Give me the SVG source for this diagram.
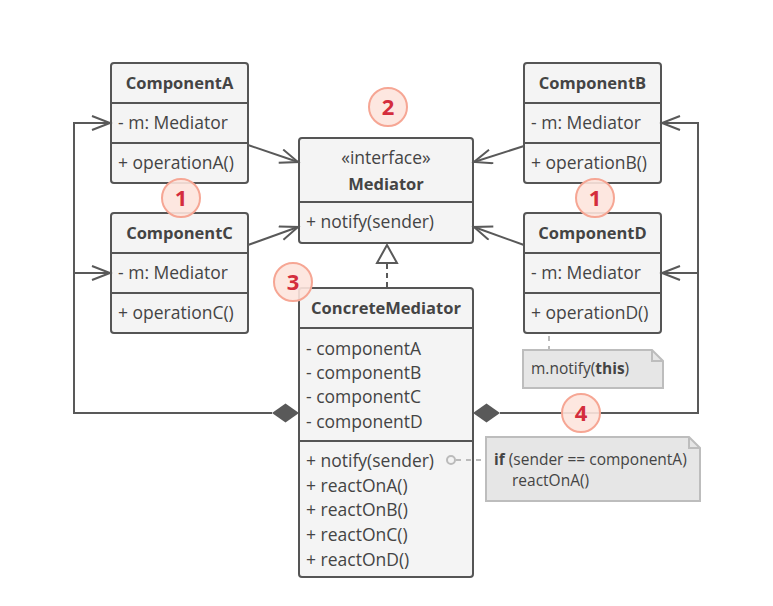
<svg xmlns="http://www.w3.org/2000/svg" width="773" height="606" viewBox="0 0 773 606">
<style>
.box{fill:#f4f4f4;stroke:#555;stroke-width:2}
.div{stroke:#555;stroke-width:2}
.t{font-family:"Open Sans","DejaVu Sans",sans-serif;font-size:17.5px;fill:#444}
.b{font-weight:bold;font-size:16.5px}
.c{text-anchor:middle}
.ln{fill:none;stroke:#595959;stroke-width:2}
.note{fill:#e6e6e6;stroke:#bdbdbd;stroke-width:2}
.nt{font-family:"Open Sans","DejaVu Sans",sans-serif;font-size:15.5px;fill:#444}
.badge circle{fill:#fde4dd;fill-opacity:0.9;stroke:#f6a694;stroke-width:2}
.badge text{font-family:"Open Sans","DejaVu Sans",sans-serif;font-size:22px;font-weight:bold;fill:#d42d3d;text-anchor:middle}
</style>
<defs>
<marker id="open" markerUnits="userSpaceOnUse" markerWidth="22" markerHeight="18" refX="19" refY="8" orient="auto">
<path d="M1,1 L19,8 L1,15" fill="none" stroke="#595959" stroke-width="2"/>
</marker>
</defs>
<rect width="773" height="606" fill="#fff"/>

<g id="componentA">
<rect class="box" x="111" y="63" width="137" height="120" rx="3"/>
<line class="div" x1="111" y1="103" x2="248" y2="103"/>
<line class="div" x1="111" y1="143" x2="248" y2="143"/>
<text class="t b c" x="179.5" y="89">ComponentA</text>
<text class="t" x="118" y="129">- m: Mediator</text>
<text class="t" x="118" y="169">+ operationA()</text>
</g>
<g id="componentC">
<rect class="box" x="111" y="213" width="137" height="120" rx="3"/>
<line class="div" x1="111" y1="253" x2="248" y2="253"/>
<line class="div" x1="111" y1="293" x2="248" y2="293"/>
<text class="t b c" x="179.5" y="239">ComponentC</text>
<text class="t" x="118" y="279">- m: Mediator</text>
<text class="t" x="118" y="319">+ operationC()</text>
</g>
<g id="componentB">
<rect class="box" x="524" y="63" width="137" height="120" rx="3"/>
<line class="div" x1="524" y1="103" x2="661" y2="103"/>
<line class="div" x1="524" y1="143" x2="661" y2="143"/>
<text class="t b c" x="592.5" y="89">ComponentB</text>
<text class="t" x="531" y="129">- m: Mediator</text>
<text class="t" x="531" y="169">+ operationB()</text>
</g>
<g id="componentD">
<rect class="box" x="524" y="213" width="137" height="120" rx="3"/>
<line class="div" x1="524" y1="253" x2="661" y2="253"/>
<line class="div" x1="524" y1="293" x2="661" y2="293"/>
<text class="t b c" x="592.5" y="239">ComponentD</text>
<text class="t" x="531" y="279">- m: Mediator</text>
<text class="t" x="531" y="319">+ operationD()</text>
</g>
<g id="mediator">
<rect class="box" x="299" y="138" width="174" height="105" rx="3"/>
<line class="div" x1="299" y1="202" x2="473" y2="202"/>
<text class="t c" x="386" y="164" font-size="17">«interface»</text>
<text class="t b c" x="386" y="190">Mediator</text>
<text class="t" x="306" y="228">+ notify(sender)</text>
</g>
<g id="concreteMediator">
<rect class="box" x="299" y="288" width="174" height="289" rx="3"/>
<line class="div" x1="299" y1="328" x2="473" y2="328"/>
<line class="div" x1="299" y1="441" x2="473" y2="441"/>
<text class="t b c" x="386" y="314">ConcreteMediator</text>
<text class="t" x="306" y="355">- componentA</text>
<text class="t" x="306" y="379">- componentB</text>
<text class="t" x="306" y="403">- componentC</text>
<text class="t" x="306" y="428">- componentD</text>
<text class="t" x="306" y="467">+ notify(sender)</text>
<text class="t" x="306" y="492">+ reactOnA()</text>
<text class="t" x="306" y="516">+ reactOnB()</text>
<text class="t" x="306" y="541">+ reactOnC()</text>
<text class="t" x="306" y="566">+ reactOnD()</text>
</g>
<g id="note1">
<path class="note" d="M523,350 H652 L663,361 V388 H523 Z"/>
<path d="M652,350 V361 H663" fill="none" stroke="#bdbdbd" stroke-width="2"/>
<text class="nt" x="531" y="374">m.notify(<tspan font-weight="bold">this</tspan>)</text>
</g>
<g id="note2">
<path class="note" d="M486,437 H689 L700,448 V501 H486 Z"/>
<path d="M689,437 V448 H700" fill="none" stroke="#bdbdbd" stroke-width="2"/>
<text class="nt" x="494" y="465"><tspan font-weight="bold">if</tspan> (sender == componentA)</text>
<text class="nt" x="512" y="486">reactOnA()</text>
</g>

<g id="connectors">
<path class="ln" d="M272,413 H74 V123 H110" marker-end="url(#open)"/>
<path class="ln" d="M74,273 H110" marker-end="url(#open)"/>
<path class="ln" d="M500,413 H698 V123 H662" marker-end="url(#open)"/>
<path class="ln" d="M698,273 H662" marker-end="url(#open)"/>
<path class="ln" d="M248,145 L298,162" marker-end="url(#open)"/>
<path class="ln" d="M248,245 L298,227" marker-end="url(#open)"/>
<path class="ln" d="M524,146 L474,162" marker-end="url(#open)"/>
<path class="ln" d="M524,245 L474,227" marker-end="url(#open)"/>
<polygon points="272,413 285.5,403.5 299,413 285.5,422.5" fill="#595959"/>
<polygon points="473,413 486.5,403.5 500,413 486.5,422.5" fill="#595959"/>
<line x1="387" y1="264" x2="387" y2="288" stroke="#595959" stroke-width="2" stroke-dasharray="5,4"/>
<polygon points="387,245 377,263 397,263" fill="#fff" stroke="#595959" stroke-width="2"/>
<line x1="549" y1="336" x2="549" y2="349" stroke="#bbb" stroke-width="2" stroke-dasharray="5,5"/>
<line x1="456" y1="460" x2="485" y2="460" stroke="#bbb" stroke-width="2" stroke-dasharray="5,5"/>
<circle cx="451" cy="460" r="4" fill="#f4f4f4" stroke="#bbb" stroke-width="2"/>
</g>

<g id="badge1a" class="badge"><circle cx="181" cy="198" r="19"/><text x="181" y="206">1</text></g>
<g id="badge1b" class="badge"><circle cx="595" cy="198" r="19"/><text x="595" y="206">1</text></g>
<g id="badge2" class="badge"><circle cx="388" cy="107" r="19"/><text x="388" y="115">2</text></g>
<g id="badge3" class="badge"><circle cx="293" cy="282" r="19"/><text x="293" y="290">3</text></g>
<g id="badge4" class="badge"><circle cx="581" cy="413" r="19"/><text x="581" y="421">4</text></g>
</svg>
